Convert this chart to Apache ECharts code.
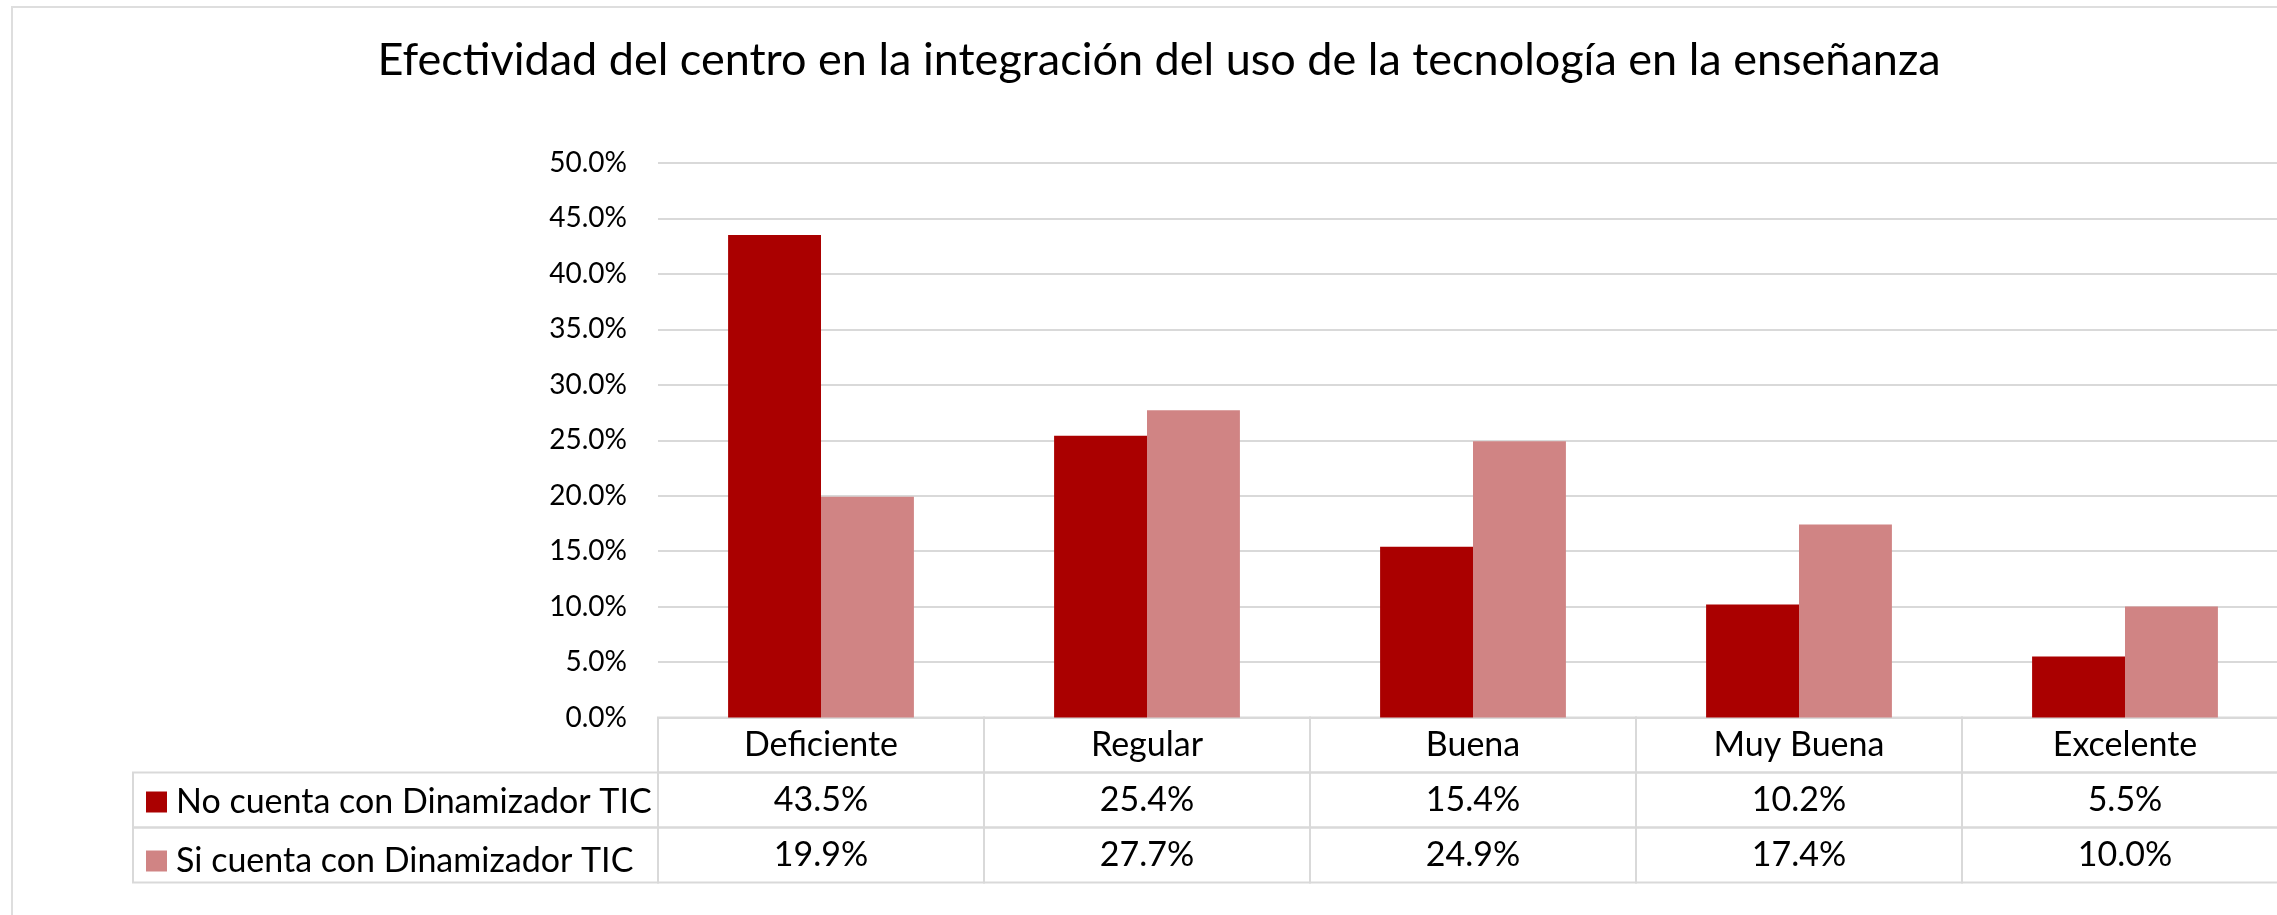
<!DOCTYPE html>
<html>
<head>
<meta charset="utf-8">
<title>Efectividad del centro</title>
<script src="https://cdn.jsdelivr.net/npm/echarts@6.0.0/dist/echarts.min.js"></script>
<style>
  html, body { margin: 0; padding: 0; background: #fff; overflow: hidden; }
  #frame {
    position: absolute; left: 11px; top: 6px; width: 2400px; height: 1000px;
    border-left: 2px solid #dedede; border-top: 2px solid #dedede;
  }
  #chart { position: absolute; left: 0; top: 0; width: 2277px; height: 915px; }
</style>
</head>
<body>
<div id="frame"></div>
<div id="chart"></div>
<script>
// datos
const categories = ['Deficiente', 'Regular', 'Buena', 'Muy Buena', 'Excelente']
const seriesNames = ['No cuenta con Dinamizador TIC', 'Si cuenta con Dinamizador TIC']
const noCuenta = [43.5, 25.4, 15.4, 10.2, 5.5]
const siCuenta = [19.9, 27.7, 24.9, 17.4, 10.0]
const colors = ['#aa0000', '#d08484']

const FONT = 'Lato, "Open Sans", sans-serif'
const LINE = '#d9d9d9'
const LEGEND_COL = -525 / 326 // ancho de la columna de leyenda, en unidades de categoría

// celdas de la tabla de datos: [columna, fila]
const cells = []
const cellTexts = []
categories.forEach((name, i) => {
  cells.push([i, 0]); cellTexts.push(name)
  cells.push([i, 1]); cellTexts.push(noCuenta[i].toFixed(1) + '%')
  cells.push([i, 2]); cellTexts.push(siCuenta[i].toFixed(1) + '%')
})
cells.push([-1, 1]); cellTexts.push('')
cells.push([-1, 2]); cellTexts.push('')

const chart = echarts.init(document.getElementById('chart'))

const option = {
  animation: false,
  color: colors,
  title: {
    text: 'Efectividad del centro en la integración del uso de la tecnología en la enseñanza',
    left: 1154,
    top: 33,
    textAlign: 'center',
    textStyle: { fontFamily: FONT, fontSize: 45, fontWeight: 'normal', color: '#000' },
  },
  legend: {
    orient: 'vertical',
    left: 146,
    top: 785,
    padding: 0,
    itemWidth: 21,
    itemHeight: 21,
    itemGap: 25,
    icon: 'rect',
    data: seriesNames,
    textStyle: { fontFamily: FONT, fontSize: 34, color: '#000', lineHeight: 30, padding: [0, 0, 0, 4] },
  },
  // el área del gráfico se sale un poco por la derecha, como en el original
  grid: [
    { left: 658, width: 1630, top: 163, height: 554.5, outerBoundsMode: 'none' },
    { left: 133, width: 2155, top: 717.5, height: 165, outerBoundsMode: 'none' },
  ],
  xAxis: [
    {
      type: 'category',
      gridIndex: 0,
      data: categories,
      axisLine: { lineStyle: { color: LINE, width: 2 } },
      axisTick: { show: false },
      axisLabel: { show: false },
    },
    { type: 'value', gridIndex: 1, min: LEGEND_COL, max: 5, show: false },
  ],
  yAxis: [
    {
      type: 'value',
      gridIndex: 0,
      min: 0,
      max: 50,
      interval: 5,
      axisLine: { show: false },
      axisTick: { show: false },
      splitLine: { lineStyle: { color: LINE, width: 2 } },
      axisLabel: {
        margin: 31,
        fontFamily: FONT,
        fontSize: 28,
        color: '#000',
        formatter: v => v.toFixed(1) + '%',
      },
    },
    { type: 'value', gridIndex: 1, min: 0, max: 3, inverse: true, show: false },
  ],
  series: [
    {
      name: seriesNames[0],
      type: 'bar',
      data: noCuenta,
      barGap: '0%',
      barCategoryGap: '43%',
      itemStyle: { color: colors[0] },
    },
    {
      name: seriesNames[1],
      type: 'bar',
      data: siCuenta,
      barGap: '0%',
      barCategoryGap: '43%',
      itemStyle: { color: colors[1] },
    },
    {
      // tabla de datos debajo del eje
      type: 'custom',
      xAxisIndex: 1,
      yAxisIndex: 1,
      silent: true,
      data: cells,
      renderItem(params, api) {
        const col = api.value(0)
        const row = api.value(1)
        const p0 = api.coord([col < 0 ? LEGEND_COL : col, row])
        const p1 = api.coord([col < 0 ? 0 : col + 1, row + 1])
        return {
          type: 'group',
          children: [
            {
              type: 'rect',
              shape: { x: p0[0], y: p0[1], width: p1[0] - p0[0], height: p1[1] - p0[1] },
              style: { fill: null, stroke: LINE, lineWidth: 2 },
            },
            {
              type: 'text',
              style: {
                text: cellTexts[params.dataIndex],
                x: (p0[0] + p1[0]) / 2,
                y: (p0[1] + p1[1]) / 2,
                align: 'center',
                verticalAlign: 'middle',
                fontFamily: FONT,
                fontSize: 34,
                fill: '#000',
              },
            },
          ],
        }
      },
    },
  ],
}

chart.setOption(option)
</script>
</body>
</html>
